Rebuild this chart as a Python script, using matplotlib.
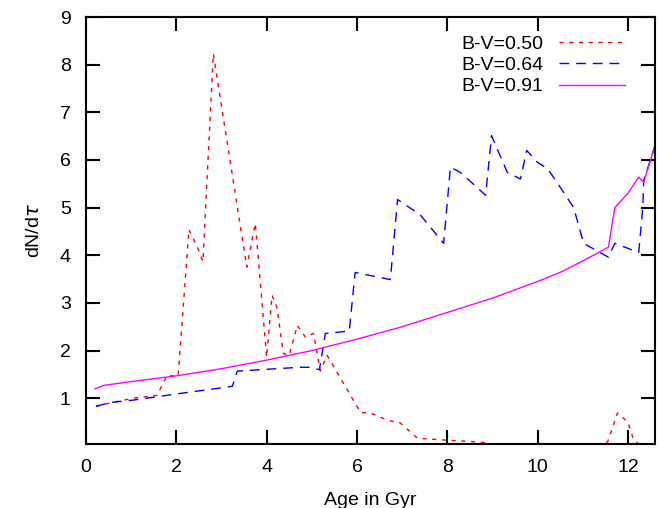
import numpy as np
import matplotlib
matplotlib.use('Agg')
import matplotlib.pyplot as plt

plt.rcParams['font.family'] = ['Liberation Sans', 'DejaVu Sans']
plt.rcParams['font.size'] = 14

# B-V = 0.50
age_050 = [0.22, 0.53, 1.04, 1.57, 1.80, 2.04, 2.28, 2.48, 2.59, 2.82, 3.56, 3.75,
           4.00, 4.12, 4.23, 4.37, 4.50, 4.68, 4.86, 5.04, 5.19, 5.34, 6.08, 6.30,
           6.67, 6.96, 7.34, 8.00, 8.74, 9.2, 11.3, 11.55, 11.77, 12.00, 12.13, 12.3]
dn_050 = [0.83, 0.90, 1.00, 1.06, 1.48, 1.46, 4.54, 4.14, 3.87, 8.23, 3.75, 4.67,
          1.86, 3.16, 2.90, 1.94, 1.90, 2.53, 2.28, 2.36, 1.57, 1.90, 0.70, 0.69,
          0.54, 0.48, 0.16, 0.12, 0.08, 0.0, 0.0, 0.08, 0.69, 0.50, 0.12, 0.0]

# B-V = 0.64
age_064 = [0.22, 0.53, 1.04, 2.08, 3.24, 3.35, 4.74, 4.93, 5.17, 5.30, 5.83, 5.96,
           6.74, 6.90, 7.40, 7.92, 8.07, 8.29, 8.85, 8.98, 9.33, 9.62, 9.76, 10.0,
           10.22, 10.5, 10.8, 11.02, 11.57, 11.71, 12.24, 12.33, 12.35, 12.6]
dn_064 = [0.83, 0.91, 0.96, 1.10, 1.25, 1.57, 1.65, 1.65, 1.60, 2.36, 2.41, 3.64,
          3.49, 5.17, 4.85, 4.25, 5.85, 5.74, 5.26, 6.51, 5.74, 5.60, 6.20, 5.95,
          5.82, 5.43, 5.00, 4.25, 3.96, 4.25, 4.06, 5.00, 5.57, 6.30]

# B-V = 0.91
age_091 = [0.2, 0.4, 1.0, 2.0, 3.0, 4.0, 5.0, 6.0, 7.0, 8.0, 9.0, 10.0, 10.5,
           11.0, 11.57, 11.71, 12.0, 12.24, 12.35, 12.6]
dn_091 = [1.20, 1.27, 1.35, 1.47, 1.62, 1.80, 2.00, 2.24, 2.50, 2.80, 3.10, 3.45,
          3.64, 3.88, 4.17, 5.00, 5.30, 5.64, 5.53, 6.30]

fig = plt.figure(figsize=(6.58, 5.08), dpi=100)
ax = fig.add_axes([0.1307, 0.126, 0.8647, 0.8405])

ax.plot(age_050, dn_050, color='red', lw=1, dashes=(3, 4), label='B-V=0.50')
ax.plot(age_064, dn_064, color='blue', lw=1, dashes=(7, 5), label='B-V=0.64')
ax.plot(age_091, dn_091, color='magenta', lw=1, label='B-V=0.91')

ax.set_xlim(0, 12.6)
ax.set_ylim(0.04, 9)
ax.set_xticks(range(0, 13, 2))
ax.set_yticks(range(1, 10))
ax.tick_params(direction='in', length=10, width=1.5, top=True, right=True, pad=11)
for s in ax.spines.values():
    s.set_linewidth(1.5)

ax.set_xlabel('Age in Gyr', labelpad=11)
ax.set_ylabel(r'dN/d$\tau$', labelpad=12)

ax.legend(loc='upper right', frameon=False, markerfirst=False, handlelength=3.4,
          labelspacing=0.18, borderaxespad=0.55, bbox_to_anchor=(0.98, 1.0))

fig.savefig('out.png', dpi=100)
